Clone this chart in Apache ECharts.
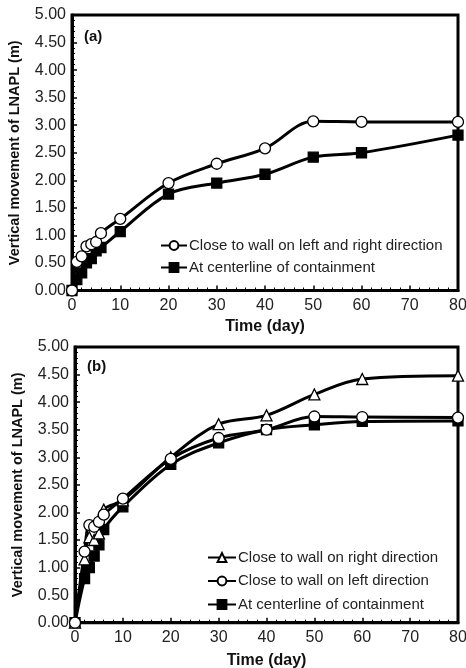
<!DOCTYPE html>
<html><head><meta charset="utf-8">
<script src="https://cdn.jsdelivr.net/npm/echarts@6/dist/echarts.min.js"></script>
<style>html,body{margin:0;padding:0;background:#fff}#c{width:466px;height:668px}</style>
</head><body><div id="c"></div>
<script>
var xA = [0,1,2,3,4,5,6,10,20,30,40,50,60,80];
var aWall = [0,0.52,0.62,0.80,0.84,0.88,1.04,1.30,1.95,2.30,2.58,3.07,3.06,3.06];
var aCenter = [0,0.20,0.32,0.50,0.58,0.72,0.78,1.07,1.75,1.95,2.11,2.42,2.50,2.82];
var xB = [0,2,3,4,5,6,10,20,30,40,50,60,80];
var bRight = [0,1.15,1.55,1.50,1.62,2.05,2.22,3.00,3.60,3.76,4.14,4.42,4.48];
var bLeft = [0,1.29,1.77,1.74,1.83,1.96,2.25,2.97,3.35,3.50,3.74,3.73,3.72];
var bCenter = [0,0.80,1.00,1.21,1.41,1.69,2.10,2.87,3.26,3.50,3.59,3.65,3.66];
var nameAWall = 'Close to wall on left and right direction';
var nameCenter = 'At centerline of containment';
var nameBRight = 'Close to wall on right direction';
var nameBLeft = 'Close to wall on left direction';
var yLabel = 'Vertical movement of LNAPL (m)';
var xLabel = 'Time (day)';

function pairs(xs, ys){ return xs.map(function(x,i){ return [x, ys[i]]; }); }
var FONT = '"Liberation Sans", Arial, sans-serif';

function xAxis(gi, gap){
  return {type:'value', gridIndex:gi, min:0, max:80, interval:10,
    name:xLabel, nameLocation:'middle', nameGap:gap,
    nameTextStyle:{fontFamily:FONT, fontWeight:'bold', fontSize:16, color:'#111'},
    axisLine:{show:true, lineStyle:{color:'#000', width:3}},
    axisTick:{show:true, inside:true, length:5, lineStyle:{color:'#000', width:1.5}},
    minorTick:{show:true, splitNumber:5, length:3, lineStyle:{color:'#000', width:1}},
    axisLabel:{fontFamily:FONT, fontSize:16, color:'#222', margin:7},
    splitLine:{show:false}};
}
function yAxis(gi){
  return {type:'value', gridIndex:gi, min:0, max:5, interval:0.5,
    name:yLabel, nameLocation:'middle', nameGap:50, nameRotate:90,
    nameTextStyle:{fontFamily:FONT, fontWeight:'bold', fontSize:14.5, color:'#111'},
    axisLine:{show:true, lineStyle:{color:'#000', width:3}},
    axisTick:{show:true, inside:true, length:5, lineStyle:{color:'#000', width:1.5}},
    minorTick:{show:true, splitNumber:5, length:3, lineStyle:{color:'#000', width:1}},
    axisLabel:{fontFamily:FONT, fontSize:16, color:'#222', margin:6,
      formatter:function(v){ return v.toFixed(2); }},
    splitLine:{show:false}};
}
function line(name, gi, data, symbol, fill, size){
  return {type:'line', name:name, xAxisIndex:gi, yAxisIndex:gi, data:data,
    smooth:0.35, symbol:symbol, symbolSize:size, showAllSymbol:true,
    lineStyle:{color:'#000', width:3},
    itemStyle:{color:fill, borderColor:'#000', borderWidth:1.3},
    emphasis:{disabled:true}, z:symbol==='rect'?3:4};
}
var chart = echarts.init(document.getElementById('c'), null, {renderer:'canvas'});
chart.setOption({
  animation:false,
  title:[
    {text:'(a)', left:79, top:24, textStyle:{fontFamily:FONT, fontWeight:'bold', fontSize:15, color:'#111'}},
    {text:'(b)', left:82, top:354, textStyle:{fontFamily:FONT, fontWeight:'bold', fontSize:15, color:'#111'}}
  ],
  grid:[
    {left:72, top:15, width:386, height:275.5, show:true, borderColor:'#000', borderWidth:3, backgroundColor:'transparent', containLabel:false, outerBoundsMode:'none'},
    {left:75, top:347, width:383, height:275.7, show:true, borderColor:'#000', borderWidth:3, backgroundColor:'transparent', containLabel:false, outerBoundsMode:'none'}
  ],
  xAxis:[xAxis(0, 28), xAxis(1, 30)],
  yAxis:[yAxis(0), yAxis(1)],
  legend:[
    {orient:'vertical', left:155, top:233, itemWidth:26, itemHeight:11, itemGap:7,
      data:[nameAWall, nameCenter], selectedMode:false,
      textStyle:{fontFamily:FONT, fontSize:15, lineHeight:15, color:'#222', padding:[0,0,0,-3]}},
    {orient:'vertical', left:202, top:545, itemWidth:28, itemHeight:11, itemGap:8.5,
      data:[nameBRight, nameBLeft, {name:nameCenter}], selectedMode:false,
      textStyle:{fontFamily:FONT, fontSize:15, lineHeight:15, color:'#222', padding:[0,0,0,-3]}}
  ],
  series:[
    line(nameAWall, 0, pairs(xA, aWall), 'circle', '#fff', 11),
    line(nameCenter, 0, pairs(xA, aCenter), 'rect', '#000', 10),
    line(nameBRight, 1, pairs(xB, bRight), 'triangle', '#fff', 11),
    line(nameBLeft, 1, pairs(xB, bLeft), 'circle', '#fff', 11),
    line(nameCenter, 1, pairs(xB, bCenter), 'rect', '#000', 10)
  ]
});
</script></body></html>
